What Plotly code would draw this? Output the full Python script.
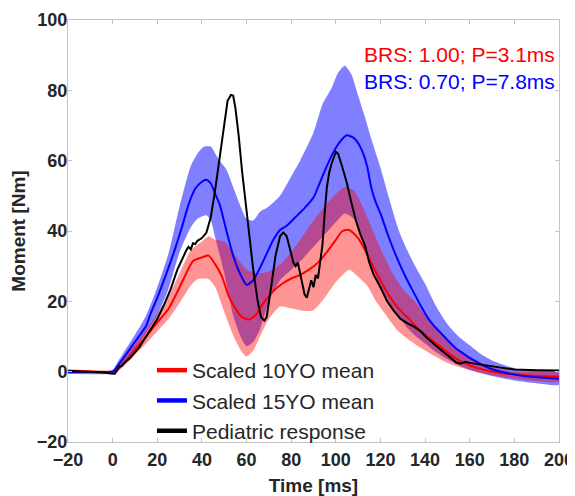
import plotly.graph_objects as go

# ---------------- data ----------------
# Scaled 10YO mean (red)
t10 = [-20, -10, 0, 2, 5, 10, 15, 20, 25, 30, 33, 36, 40, 43, 46, 49, 52, 55, 58, 61, 64, 67, 70, 73, 76,
       80, 84, 88, 92, 96, 100, 103, 106, 110, 114, 117, 120, 124, 128, 132, 136, 140, 145, 150, 155, 160,
       165, 170, 180, 190, 200]
m10 = [0.3, 0.1, 0.0, 0.3, 2.5, 6.3, 10.0, 14.0, 17.8, 24.0, 28.0, 31.5, 32.5, 33.0, 30.5, 27.0, 21.5, 18.0,
       15.5, 14.8, 16.0, 19.0, 21.5, 23.5, 25.0, 26.5, 27.5, 29.0, 31.0, 34.0, 37.5, 40.0, 40.3, 38.0, 33.5,
       29.5, 26.0, 21.5, 18.0, 15.5, 12.8, 10.5, 8.0, 5.5, 3.3, 1.8, 0.8, 0.0, -0.8, -1.2, -1.4]

t10_up = [-20, 0, 5, 10, 15, 20, 25, 30, 35, 40, 43, 46, 50, 55, 60, 65, 70, 76, 80, 84, 90, 95, 100, 104,
          108, 112, 116, 120, 125, 130, 136, 140, 145, 150, 155, 160, 170, 180, 200]
u10 = [0.5, 0.2, 3.5, 7.8, 12.0, 16.5, 21.5, 28.0, 34.5, 37.0, 38.5, 37.5, 37.0, 33.0, 29.0, 28.0, 28.5, 31.0,
       34.0, 37.5, 43.0, 47.0, 50.5, 52.5, 51.5, 47.0, 41.0, 35.0, 28.5, 23.5, 19.5, 16.0, 12.0, 8.5, 5.8,
       3.8, 1.2, 0.0, -0.5]

t10_lo = [-20, 0, 5, 10, 15, 20, 25, 30, 35, 38, 43, 46, 50, 55, 58, 60, 63, 66, 70, 75, 80, 85, 90, 95,
          100, 106, 110, 114, 118, 122, 128, 134, 140, 150, 160, 170, 180, 200]
l10 = [0.0, -0.3, 1.5, 4.8, 8.0, 11.5, 15.0, 19.5, 24.5, 26.3, 26.3, 24.0, 17.0, 9.0, 5.5, 4.3, 6.0, 10.0,
       15.0, 18.5, 18.0, 17.3, 17.5, 21.0, 25.5, 29.0, 27.0, 24.5, 20.0, 16.5, 11.5, 8.5, 6.0, 2.5, 0.5,
       -1.0, -2.0, -2.8]

# Scaled 15YO mean (blue)
t15 = [-20, -10, 0, 2, 5, 10, 15, 17, 20, 25, 28, 31, 34, 37, 40, 42, 44, 46, 48, 51, 54, 57, 60, 63, 66,
       69, 72, 75, 78, 82, 86, 90, 93, 96, 99, 102, 105, 108, 110, 112, 114, 116, 118, 120, 123, 126, 129,
       132, 135, 138, 141, 144, 147, 150, 154, 158, 162, 166, 170, 180, 190, 200]
m15 = [-0.2, -0.1, 0.0, 1.5, 4.0, 8.5, 13.0, 16.5, 21.0, 29.5, 35.0, 41.0, 47.5, 52.0, 54.0, 54.6, 53.5,
       50.5, 47.5, 40.0, 33.0, 28.0, 24.7, 26.0, 29.5, 33.5, 37.5, 40.3, 41.5, 44.0, 46.5, 49.5, 54.0, 58.5,
       62.5, 65.5, 67.2, 66.5, 65.0, 62.5, 58.5, 52.0, 48.0, 45.0, 39.5, 34.5, 30.0, 26.0, 22.4, 18.8, 15.5,
       13.0, 11.0, 9.0, 6.5, 4.8, 3.2, 1.8, 0.7, -0.8, -1.6, -2.0]

t15_up = [-20, 0, 2, 5, 10, 15, 20, 25, 30, 35, 38, 41, 44, 46, 48, 51, 54, 57, 60, 63, 66, 70, 75, 80, 84,
          90, 94, 98, 101, 104, 107, 110, 113, 116, 120, 124, 128, 132, 136, 140, 145, 150, 155, 160, 165,
          170, 180, 190, 200]
u15 = [0.3, 0.5, 2.5, 5.5, 10.5, 16.0, 24.0, 33.5, 47.0, 58.5, 62.0, 64.0, 64.0, 62.0, 60.0, 57.5, 52.5,
       47.5, 43.5, 43.0, 45.5, 47.0, 50.0, 55.5, 60.0, 68.0, 76.0, 80.5, 85.0, 87.0, 84.5, 78.5, 72.5, 66.0,
       58.0, 49.0, 40.5, 34.5, 29.5, 25.0, 18.5, 13.5, 10.0, 7.5, 5.0, 3.2, 1.0, 0.2, -0.2]

t15_lo = [-20, 0, 2, 5, 10, 15, 20, 25, 30, 35, 38, 42, 44, 46, 50, 54, 57, 60, 63, 66, 70, 75, 80, 85, 90,
          95, 100, 104, 108, 112, 116, 120, 124, 128, 132, 136, 140, 145, 150, 155, 160, 170, 180, 190, 200]
l15 = [-0.6, -0.5, 0.5, 2.5, 6.5, 11.0, 16.0, 23.5, 34.0, 41.0, 43.5, 44.5, 43.0, 38.0, 28.0, 16.0, 10.5,
       7.2, 8.5, 12.0, 20.0, 26.0, 29.0, 32.0, 35.5, 39.0, 42.5, 45.0, 43.5, 37.0, 30.0, 24.0, 19.5, 16.0,
       12.5, 10.0, 8.0, 5.5, 3.5, 1.8, 0.5, -1.2, -2.5, -3.3, -3.7]

# Pediatric response (black)
tp = [-20, -15, -10, -5, -1, 1, 2, 3, 4, 5, 8, 10, 12, 15, 18, 20, 23, 26, 29, 31, 33, 34, 35, 36, 37, 38,
      40, 42, 44, 46, 48, 50, 51.5, 53, 54, 55, 56.5, 58, 60, 61.5, 63, 65, 66.5, 68, 69, 71, 73, 75, 76.5,
      78, 80, 81, 82, 83, 84, 85, 86, 87, 88, 89, 90, 91, 92, 93, 94, 95, 96, 97, 98, 100, 101, 103, 105,
      107, 109, 111, 113, 115, 117, 120, 123, 126, 129, 132, 135, 138, 141, 145, 148, 151, 154, 156, 158,
      160, 165, 170, 175, 180, 190, 200]
vp = [0.2, 0.1, 0.0, -0.2, -0.5, -0.6, 0.5, 1.5, 1.6, 2.3, 4.0, 5.5, 7.0, 10.0, 13.0, 15.0, 19.0, 23.5,
      29.0, 32.0, 34.5, 35.5, 34.8, 36.5, 36.3, 37.2, 38.0, 39.5, 44.0, 52.0, 61.0, 71.0, 77.0, 78.7, 78.5,
      75.0, 67.0, 57.0, 46.0, 38.0, 29.0, 20.0, 15.5, 14.5, 15.5, 24.0, 33.0, 38.5, 39.6, 38.5, 33.5, 31.0,
      30.0, 31.0, 28.0, 25.0, 22.0, 21.0, 23.5, 26.0, 24.0, 27.5, 26.5, 31.0, 36.0, 45.0, 52.5, 56.5, 59.0,
      62.5, 62.0, 58.0, 53.5, 48.0, 43.0, 39.0, 36.0, 31.0, 27.5, 24.0, 20.0, 17.3, 15.0, 13.8, 12.8, 11.5,
      9.5, 7.3, 5.8, 4.3, 2.6, 2.3, 2.8, 2.5, 2.0, 1.5, 1.0, 0.6, 0.4, 0.3]

series_names = ["Scaled 10YO mean", "Scaled 15YO mean", "Pediatric response"]
annotations_text = ["BRS: 1.00; P=3.1ms", "BRS: 0.70; P=7.8ms"]
x_ticks = [-20, 0, 20, 40, 60, 80, 100, 120, 140, 160, 180, 200]
y_ticks = [-20, 0, 20, 40, 60, 80, 100]

RED = "#ff0000"
BLUE = "#0000ff"
BLACK = "#000000"
FONT = "Arial, Liberation Sans, sans-serif"
TXT = "#262626"

fig = go.Figure()

# bands
fig.add_trace(go.Scatter(x=t15_up + t15_lo[::-1], y=u15 + l15[::-1], fill="toself",
                         fillcolor="rgba(0,0,255,0.5)", line=dict(width=0, shape="spline", smoothing=0.6),
                         mode="lines", hoverinfo="skip", showlegend=False))
fig.add_trace(go.Scatter(x=t10_up + t10_lo[::-1], y=u10 + l10[::-1], fill="toself",
                         fillcolor="rgba(255,0,0,0.42)", line=dict(width=0, shape="spline", smoothing=0.6),
                         mode="lines", hoverinfo="skip", showlegend=False))

# mean lines
fig.add_trace(go.Scatter(x=t10, y=m10, mode="lines",
                         line=dict(color=RED, width=2, shape="spline", smoothing=0.6), showlegend=False))
fig.add_trace(go.Scatter(x=t15, y=m15, mode="lines",
                         line=dict(color=BLUE, width=2, shape="spline", smoothing=0.6), showlegend=False))
fig.add_trace(go.Scatter(x=tp, y=vp, mode="lines", line=dict(color=BLACK, width=2), showlegend=False))

# legend entries (thicker sample lines)
for name, col in zip(series_names, [RED, BLUE, BLACK]):
    fig.add_trace(go.Scatter(x=[None], y=[None], mode="lines", name=name,
                             line=dict(color=col, width=4.5)))

fig.add_annotation(x=0.995, y=0.919, xref="paper", yref="paper", text=annotations_text[0],
                   showarrow=False, xanchor="right", yanchor="middle",
                   font=dict(family=FONT, size=21, color=RED))
fig.add_annotation(x=0.995, y=0.855, xref="paper", yref="paper", text=annotations_text[1],
                   showarrow=False, xanchor="right", yanchor="middle",
                   font=dict(family=FONT, size=21, color=BLUE))

axis_common = dict(showline=True, linecolor="#c4c4c4", linewidth=1, mirror="ticks",
                   ticks="inside", ticklen=4, tickcolor="#c4c4c4", showgrid=False, zeroline=False,
                   automargin=False,
                   tickfont=dict(family=FONT, size=18, color=TXT, weight="bold"))

fig.update_xaxes(range=[-20, 200], tickvals=x_ticks, ticklabelstandoff=1,
                 title=dict(text="Time [ms]", font=dict(family=FONT, size=19, color=TXT, weight="bold"),
                            standoff=11),
                 **axis_common)
fig.update_yaxes(range=[-20, 100], tickvals=y_ticks, ticklabelstandoff=-4,
                 title=dict(text="Moment [Nm]", font=dict(family=FONT, size=19, color=TXT, weight="bold"),
                            standoff=14),
                 **axis_common)

# the page body adds an 8 px offset, so the figure is sized/margined to compensate
fig.update_layout(
    width=567, height=488,
    margin=dict(l=60, r=16, t=12, b=54),
    paper_bgcolor="white", plot_bgcolor="white",
    legend=dict(x=0.171, y=0.218, xanchor="left", yanchor="top", bgcolor="rgba(0,0,0,0)",
                font=dict(family=FONT, size=21, color=TXT), itemwidth=30, tracegroupgap=0),
    showlegend=True,
)

fig.write_html("out.html")
